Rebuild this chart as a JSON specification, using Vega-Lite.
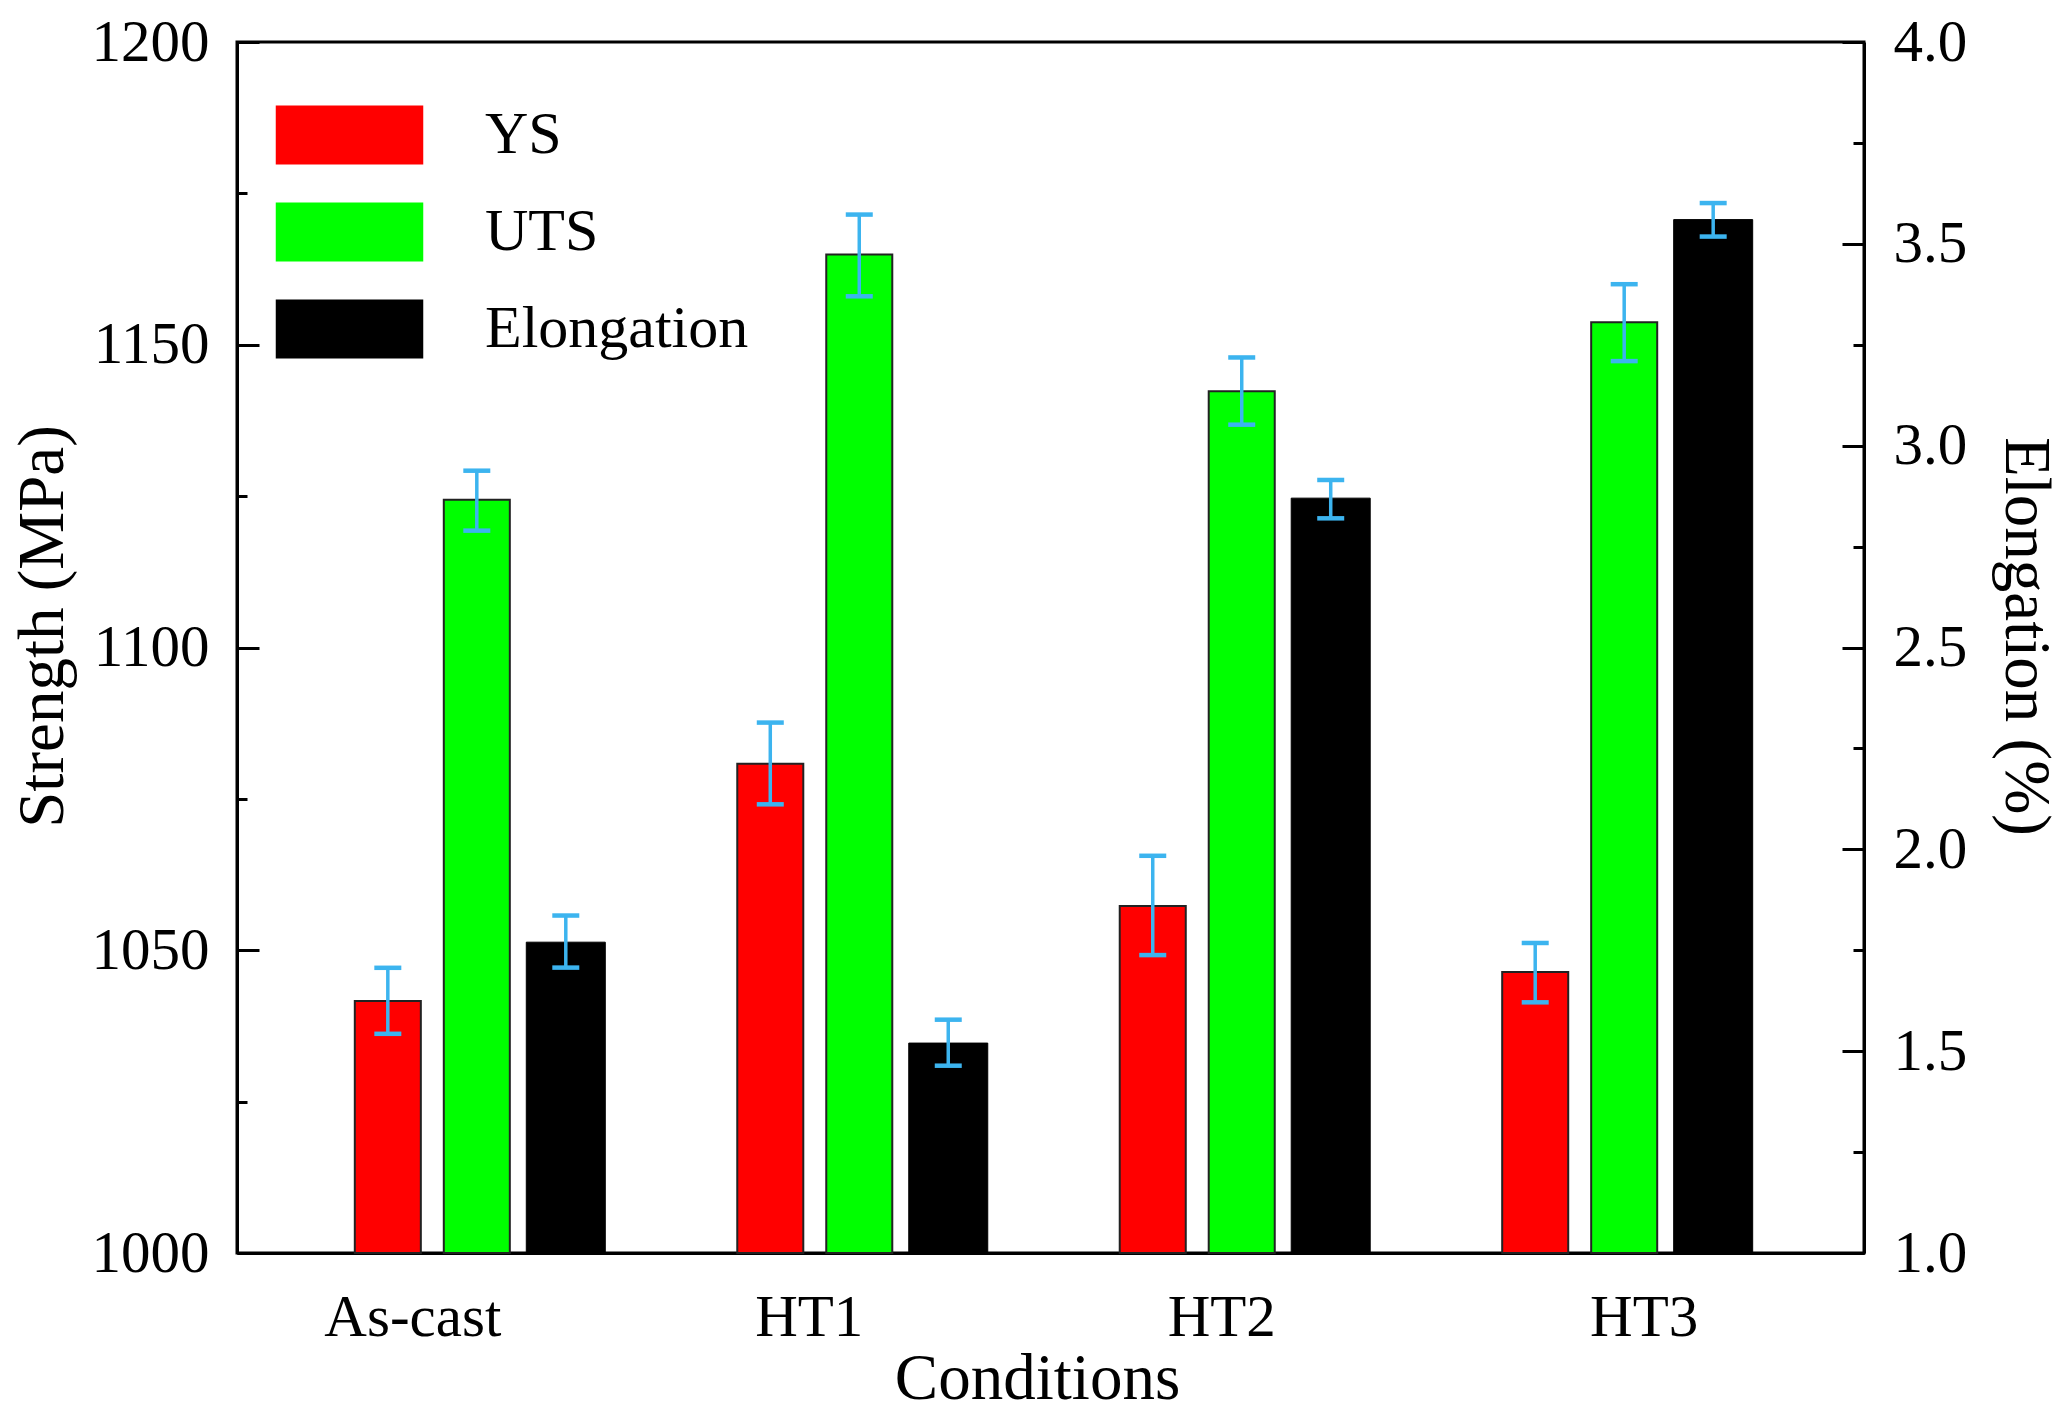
{
  "$schema": "https://vega.github.io/schema/vega-lite/v6.json",
  "width": 1627,
  "height": 1211,
  "autosize": {"type": "none"},
  "padding": {"left": 237, "top": 42, "right": 204, "bottom": 162},
  "background": "white",
  "config": {
    "font": "Liberation Serif",
    "view": {"stroke": "black", "strokeWidth": 3}
  },
  "data": {
    "values": [
      {"cond": "As-cast", "series": "YS", "value": 1041.6, "lo": 1036.2, "hi": 1047.1},
      {"cond": "As-cast", "series": "UTS", "value": 1124.4, "lo": 1119.3, "hi": 1129.2},
      {"cond": "As-cast", "series": "Elongation", "value": 1.77, "lo": 1.707, "hi": 1.836},
      {"cond": "HT1", "series": "YS", "value": 1080.8, "lo": 1074.1, "hi": 1087.6},
      {"cond": "HT1", "series": "UTS", "value": 1164.9, "lo": 1158.0, "hi": 1171.5},
      {"cond": "HT1", "series": "Elongation", "value": 1.52, "lo": 1.464, "hi": 1.578},
      {"cond": "HT2", "series": "YS", "value": 1057.3, "lo": 1049.2, "hi": 1065.6},
      {"cond": "HT2", "series": "UTS", "value": 1142.3, "lo": 1136.8, "hi": 1147.9},
      {"cond": "HT2", "series": "Elongation", "value": 2.87, "lo": 2.82, "hi": 2.915},
      {"cond": "HT3", "series": "YS", "value": 1046.4, "lo": 1041.4, "hi": 1051.2},
      {"cond": "HT3", "series": "UTS", "value": 1153.7, "lo": 1147.3, "hi": 1160.0},
      {"cond": "HT3", "series": "Elongation", "value": 3.56, "lo": 3.518, "hi": 3.601}
    ]
  },
  "encoding": {
    "x": {
      "field": "cond", "type": "nominal",
      "sort": ["As-cast", "HT1", "HT2", "HT3"],
      "scale": {"paddingInner": 0.302, "paddingOuter": 0.278},
      "axis": {
        "title": "Conditions",
        "titleFontSize": 65, "titleFontWeight": "normal", "titleColor": "black",
        "titleBaseline": "alphabetic", "titleY": 145, "titleX": 800,
        "labelAngle": 0, "labelFontSize": 59, "labelColor": "black",
        "labelBaseline": "alphabetic", "labelPadding": 82,
        "ticks": false, "tickSize": 0,
        "domainColor": "black", "domainWidth": 3,
        "labelOffset": {
          "condition": [
            {"test": "datum.value === 'As-cast'", "value": -64},
            {"test": "datum.value === 'HT1'", "value": -50},
            {"test": "datum.value === 'HT2'", "value": -20}
          ],
          "value": 20
        }
      }
    },
    "xOffset": {
      "field": "series", "type": "nominal",
      "scale": {"domain": ["YS", "UTS", "Elongation"], "paddingInner": 0.258, "paddingOuter": 0.129}
    }
  },
  "layer": [
    {
      "transform": [{"filter": "datum.series !== 'Elongation'"}],
      "encoding": {
        "y": {
          "field": "value", "type": "quantitative", "title": "Strength (MPa)",
          "scale": {"domain": [1000, 1200], "zero": false, "nice": false},
          "axis": {
            "orient": "left",
            "values": [1000, 1025, 1050, 1075, 1100, 1125, 1150, 1175, 1200],
            "format": "d",
            "labelExpr": "datum.value % 50 === 0 ? datum.label : ''",
            "grid": false,
            "domainColor": "black", "domainWidth": 3,
            "ticks": true, "tickColor": "black", "tickWidth": 3,
            "tickSize": {"condition": {"test": "datum.value % 50 === 0", "value": -22}, "value": -10},
            "labelFontSize": 59, "labelColor": "black", "labelPadding": 50,
            "titleFontSize": 65, "titleFontWeight": "normal", "titleColor": "black",
            "titleBaseline": "alphabetic", "titleX": -175, "titleY": 584
          }
        }
      },
      "layer": [
        {
          "mark": {"type": "bar", "stroke": "#222222", "strokeWidth": 2},
          "encoding": {
            "y2": {"datum": 1000},
            "color": {
              "field": "series", "type": "nominal",
              "scale": {"domain": ["YS", "UTS", "Elongation"], "range": ["#ff0000", "#00ff00", "#000000"]},
              "legend": {
                "orient": "none", "legendX": 82.5, "legendY": 63, "title": null, "padding": 0,
                "symbolType": "M-2.5,-1H2.5V1H-2.5Z", "symbolSize": 3481,
                "symbolStrokeWidth": 0, "symbolOpacity": 1,
                "labelFontSize": 60, "labelColor": "black", "labelOffset": 105.5,
                "labelLimit": 0, "rowPadding": 37
              }
            }
          }
        },
        {
          "mark": {"type": "rule", "color": "#3cb4ef", "strokeWidth": 3.5},
          "encoding": {
            "y": {"field": "lo", "type": "quantitative", "title": "Strength (MPa)"},
            "y2": {"field": "hi"}
          }
        },
        {
          "mark": {"type": "tick", "orient": "horizontal", "color": "#3cb4ef", "size": 27, "thickness": 4.5, "opacity": 1},
          "encoding": {"y": {"field": "lo", "type": "quantitative", "title": "Strength (MPa)"}}
        },
        {
          "mark": {"type": "tick", "orient": "horizontal", "color": "#3cb4ef", "size": 27, "thickness": 4.5, "opacity": 1},
          "encoding": {"y": {"field": "hi", "type": "quantitative", "title": "Strength (MPa)"}}
        }
      ]
    },
    {
      "transform": [{"filter": "datum.series === 'Elongation'"}],
      "encoding": {
        "y": {
          "field": "value", "type": "quantitative", "title": "Elongation (%)",
          "scale": {"domain": [1, 4], "zero": false, "nice": false},
          "axis": {
            "orient": "right",
            "values": [1, 1.25, 1.5, 1.75, 2, 2.25, 2.5, 2.75, 3, 3.25, 3.5, 3.75, 4],
            "format": ".1f",
            "labelExpr": "abs(datum.value * 2 - round(datum.value * 2)) < 0.001 ? datum.label : ''",
            "grid": false,
            "domainColor": "black", "domainWidth": 3,
            "ticks": true, "tickColor": "black", "tickWidth": 3,
            "tickSize": {"condition": {"test": "abs(datum.value * 2 - round(datum.value * 2)) < 0.001", "value": -22}, "value": -11},
            "labelFontSize": 59, "labelColor": "black", "labelPadding": 51,
            "titleFontSize": 65, "titleFontWeight": "normal", "titleColor": "black",
            "titleBaseline": "alphabetic", "titleX": 141, "titleY": 594
          }
        }
      },
      "layer": [
        {
          "mark": {"type": "bar", "stroke": "#000000", "strokeWidth": 1, "width": 79},
          "encoding": {
            "y2": {"datum": 1},
            "color": {"field": "series", "type": "nominal"}
          }
        },
        {
          "mark": {"type": "rule", "color": "#3cb4ef", "strokeWidth": 3.5},
          "encoding": {
            "y": {"field": "lo", "type": "quantitative", "title": "Elongation (%)"},
            "y2": {"field": "hi"}
          }
        },
        {
          "mark": {"type": "tick", "orient": "horizontal", "color": "#3cb4ef", "size": 27, "thickness": 4.5, "opacity": 1},
          "encoding": {"y": {"field": "lo", "type": "quantitative", "title": "Elongation (%)"}}
        },
        {
          "mark": {"type": "tick", "orient": "horizontal", "color": "#3cb4ef", "size": 27, "thickness": 4.5, "opacity": 1},
          "encoding": {"y": {"field": "hi", "type": "quantitative", "title": "Elongation (%)"}}
        }
      ]
    }
  ],
  "resolve": {"scale": {"y": "independent"}}
}
